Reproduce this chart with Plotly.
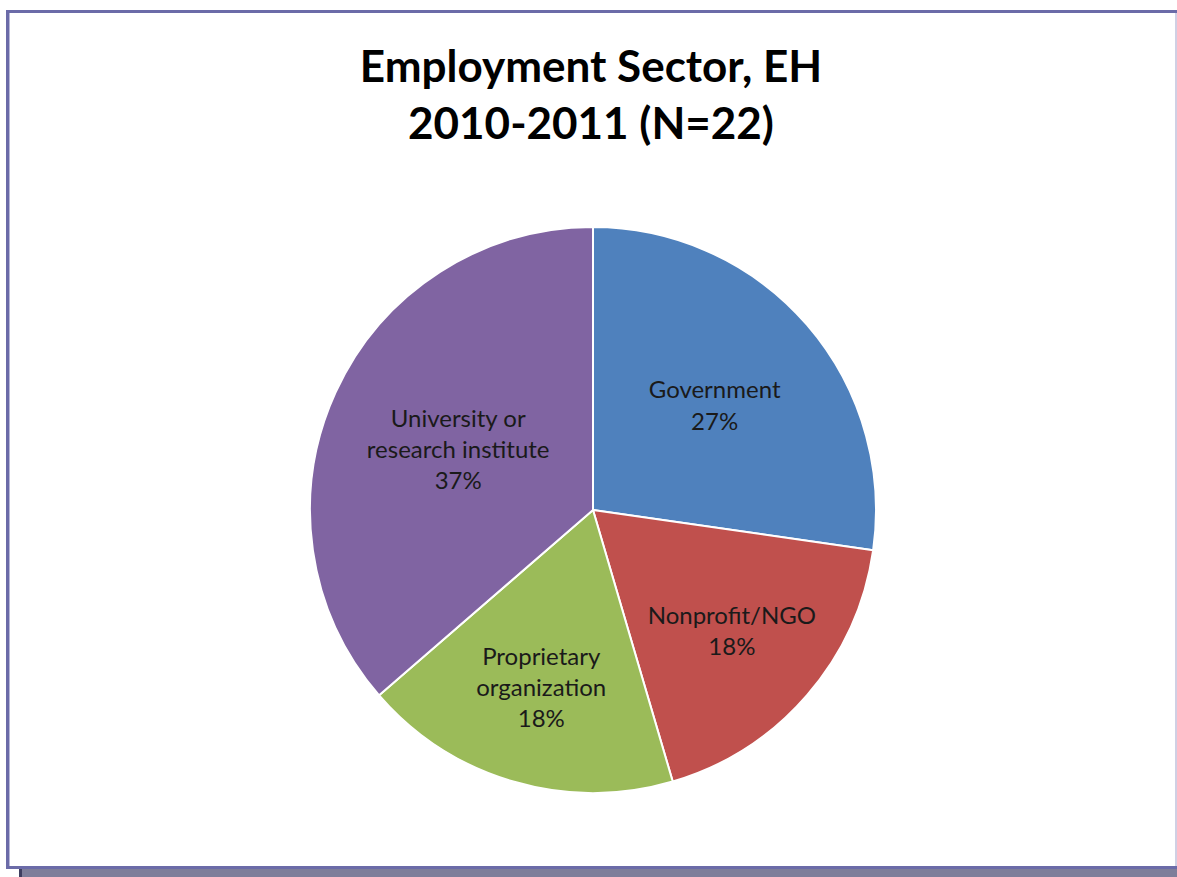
import plotly.graph_objects as go

# Data
categories = ["Government", "Nonprofit/NGO", "Proprietary organization", "University or research institute"]
label_lines = ["Government", "Nonprofit/NGO", "Proprietary<br>organization", "University or<br>research institute"]
counts = [6, 4, 4, 8]
shown_pct = ["27%", "18%", "18%", "37%"]
colors = ["#4F81BD", "#C0504D", "#9BBB59", "#8064A2"]

W, H = 1177, 877

fig = go.Figure(go.Pie(
    labels=categories,
    values=counts,
    customdata=list(zip(label_lines, shown_pct)),
    texttemplate="%{customdata[0]}<br>%{customdata[1]}",
    textposition="inside",
    insidetextorientation="horizontal",
    textfont=dict(family="Lato, sans-serif", size=24, color="#1a1a1a"),
    marker=dict(colors=colors, line=dict(color="white", width=2)),
    sort=False,
    direction="clockwise",
    rotation=0,
    hoverinfo="label+percent",
    domain=dict(x=[310 / W, 876 / W], y=[1 - 793 / H, 1 - 227 / H]),
    showlegend=False,
))

shapes = [
    # shadow band at bottom
    dict(type="rect", xref="paper", yref="paper", x0=19 / W, x1=1, y0=0, y1=1 - 869 / H,
         fillcolor="#7E7E9A", line=dict(width=0), layer="below"),
    dict(type="rect", xref="paper", yref="paper", x0=19 / W, x1=22 / W, y0=0, y1=1 - 869 / H,
         fillcolor="#3E3E60", line=dict(width=0), layer="below"),
    # frame lines
    dict(type="rect", xref="paper", yref="paper", x0=6 / W, x1=9 / W, y0=1 - 869 / H, y1=1 - 10 / H,
         fillcolor="#6B6BA8", line=dict(width=0), layer="below"),
    dict(type="rect", xref="paper", yref="paper", x0=6 / W, x1=1, y0=1 - 13 / H, y1=1 - 10 / H,
         fillcolor="#6B6BA8", line=dict(width=0), layer="below"),
    dict(type="rect", xref="paper", yref="paper", x0=6 / W, x1=1, y0=1 - 869 / H, y1=1 - 866 / H,
         fillcolor="#6B6BA8", line=dict(width=0), layer="below"),
    dict(type="rect", xref="paper", yref="paper", x0=9 / W, x1=10 / W, y0=1 - 866 / H, y1=1 - 13 / H,
         fillcolor="#B8B8D8", line=dict(width=0), layer="below"),
    dict(type="rect", xref="paper", yref="paper", x0=1175 / W, x1=1, y0=1 - 866 / H, y1=1 - 13 / H,
         fillcolor="#D0D0E4", line=dict(width=0), layer="below"),
]

fig.update_layout(
    width=W, height=H,
    margin=dict(l=0, r=0, t=0, b=0),
    paper_bgcolor="white",
    plot_bgcolor="white",
    title=dict(
        text="<b>Employment Sector, EH<br>2010-2011 (N=22)</b>",
        x=591 / W, xanchor="center",
        y=1 - 82 / H, yanchor="middle",
        font=dict(family="Lato, sans-serif", size=44, color="black"),
    ),
    shapes=shapes,
)

fig.write_html(
    "out.html",
    config={"displayModeBar": False},
    post_script="document.body.style.margin='0';document.body.style.overflow='hidden';",
)
